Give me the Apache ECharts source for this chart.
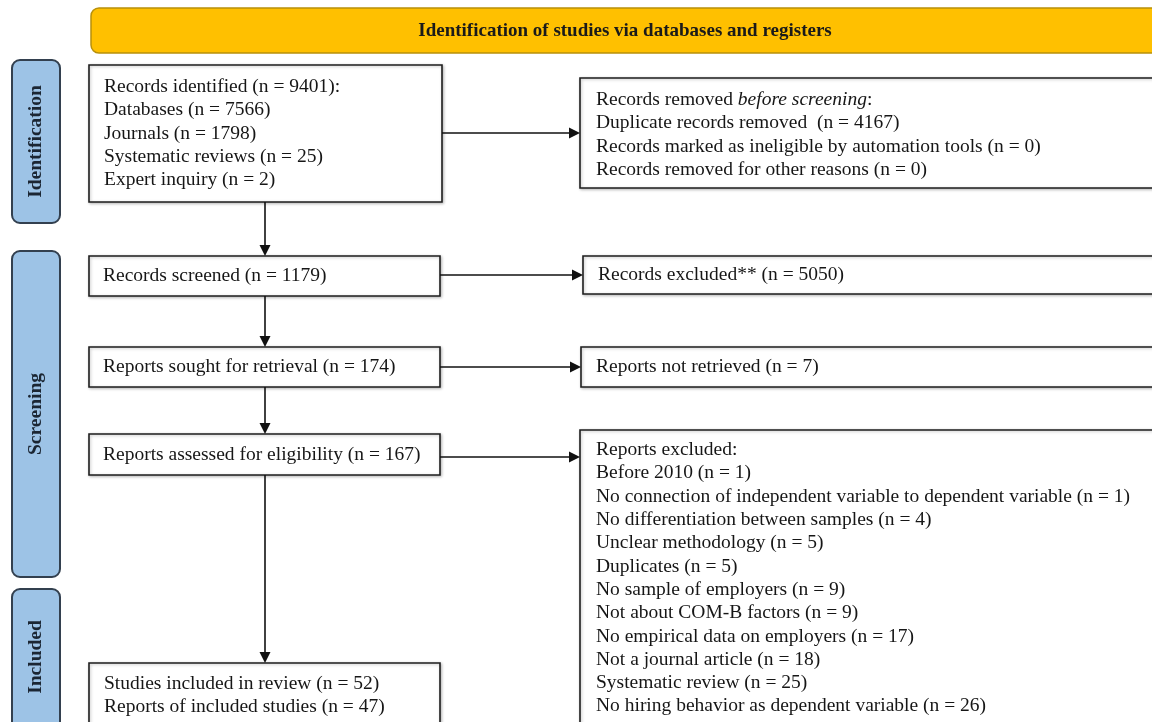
<!DOCTYPE html>
<html><head><meta charset="utf-8">
<script src="https://cdn.jsdelivr.net/npm/echarts@6/dist/echarts.min.js"></script>
<style>html,body{margin:0;padding:0;background:#fff}#c{width:1152px;height:722px}</style>
</head><body><div id="c"></div>
<script>
// ---------- data ----------
const headerTitle = 'Identification of studies via databases and registers';
const stageNames = ['Identification', 'Screening', 'Included'];
const identifiedTotal = 9401;
const sourceNames = ['Databases', 'Journals', 'Systematic reviews', 'Expert inquiry'];
const sourceCounts = [7566, 1798, 25, 2];
const removedNames = ['Duplicate records removed ', 'Records marked as ineligible by automation tools', 'Records removed for other reasons'];
const removedCounts = [4167, 0, 0];
const flowNames = ['Records screened', 'Reports sought for retrieval', 'Reports assessed for eligibility'];
const flowCounts = [1179, 174, 167];
const dropNames = ['Records excluded**', 'Reports not retrieved'];
const dropCounts = [5050, 7];
const reasonNames = ['Before 2010', 'No connection of independent variable to dependent variable', 'No differentiation between samples', 'Unclear methodology', 'Duplicates', 'No sample of employers', 'Not about COM-B factors', 'No empirical data on employers', 'Not a journal article', 'Systematic review', 'No hiring behavior as dependent variable'];
const reasonCounts = [1, 1, 4, 5, 5, 9, 9, 17, 18, 25, 26];
const includedNames = ['Studies included in review', 'Reports of included studies'];
const includedCounts = [52, 47];

// ---------- layout (diagram coordinate space) ----------
const L = {
  header: [91, 8, 1165, 53],
  stages: [[12, 60, 60, 223], [12, 251, 60, 577], [12, 589, 60, 745]],
  ident: [89, 65, 442, 202],
  flow: [[89, 256, 440, 296], [89, 347, 440, 387], [89, 434, 440, 475]],
  included: [89, 663, 440, 745],
  removed: [580, 78, 1165, 188],
  drops: [[583, 256, 1165, 294], [581, 347, 1165, 387]],
  reasons: [580, 430, 1165, 745],
  arrows: [
    [265, 202, 265, 256], [265, 296, 265, 347], [265, 387, 265, 434], [265, 475, 265, 663],
    [442, 133, 580, 133], [440, 275, 583, 275], [440, 367, 581, 367], [440, 457, 580, 457]
  ]
};

const fmt = (n, c) => `${n} (n = ${c})`;
const boxes = [];
boxes.push({ rect: L.header, kind: 'header', text: headerTitle });
stageNames.forEach((s, i) => boxes.push({ rect: L.stages[i], kind: 'stage', text: s }));
boxes.push({ rect: L.ident, kind: 'box', pad: 15, first: 22,
  lines: [`Records identified (n = ${identifiedTotal}):`].concat(sourceNames.map((n, i) => fmt(n, sourceCounts[i]))) });
boxes.push({ rect: L.removed, kind: 'box', pad: 16, first: 22,
  lines: ['{n|Records removed }{i|before screening}{n|:}'].concat(removedNames.map((n, i) => fmt(n, removedCounts[i]))) });
flowNames.forEach((n, i) => boxes.push({ rect: L.flow[i], kind: 'box', pad: 14, lines: [fmt(n, flowCounts[i])] }));
dropNames.forEach((n, i) => boxes.push({ rect: L.drops[i], kind: 'box', pad: 15, lines: [fmt(n, dropCounts[i])] }));
boxes.push({ rect: L.reasons, kind: 'box', pad: 16, first: 20,
  lines: ['Reports excluded:'].concat(reasonNames.map((n, i) => fmt(n, reasonCounts[i]))) });
boxes.push({ rect: L.included, kind: 'box', pad: 15, first: 21,
  lines: includedNames.map((n, i) => fmt(n, includedCounts[i])) });

const FONT = '"Liberation Serif", "Times New Roman", serif';
const FS = 19.5, LH = 23.3;
const TXT = '#161616';

function renderBox(params, api) {
  const b = boxes[params.dataIndex];
  const p0 = api.coord([api.value(0), api.value(1)]);
  const p1 = api.coord([api.value(2), api.value(3)]);
  const x = p0[0], y = p0[1], w = p1[0] - p0[0], h = p1[1] - p0[1];
  const children = [];
  if (b.kind === 'header') {
    children.push({ type: 'rect', shape: { x, y, width: w, height: h, r: 8 },
      style: { fill: '#FFC000', stroke: '#B8900A', lineWidth: 1.5 } });
    children.push({ type: 'text', x: 625, y: y + h / 2 + 1,
      style: { text: b.text, fontFamily: FONT, fontSize: 19, fontWeight: 'bold', fill: '#1a1a1a', align: 'center', verticalAlign: 'middle' } });
  } else if (b.kind === 'stage') {
    children.push({ type: 'rect', shape: { x, y, width: w, height: h, r: 8 },
      style: { fill: '#9DC3E6', stroke: '#33404F', lineWidth: 2 } });
    const cy = b.text === 'Included' ? y + 68 : y + h / 2;
    children.push({ type: 'text', x: x + w / 2, y: cy, rotation: Math.PI / 2,
      style: { text: b.text, fontFamily: FONT, fontSize: 19.5, fontWeight: 'bold', fill: '#1B2633', align: 'center', verticalAlign: 'middle' } });
  } else {
    children.push({ type: 'rect', shape: { x, y, width: w, height: h },
      style: { fill: '#fff', stroke: '#1e1e1e', lineWidth: 1.6, shadowBlur: 3, shadowColor: 'rgba(0,0,0,0.25)', shadowOffsetX: 1, shadowOffsetY: 1 } });
    const n = b.lines.length;
    const top = b.first != null ? y + b.first - LH / 2 : y + h / 2 - (n * LH) / 2;
    children.push({ type: 'text', x: x + b.pad, y: top,
      style: { text: b.lines.join('\n'), fontFamily: FONT, fontSize: FS, lineHeight: LH, fill: TXT, align: 'left', verticalAlign: 'top',
        rich: {
          n: { fontFamily: FONT, fontSize: FS, lineHeight: LH, fill: TXT },
          i: { fontFamily: FONT, fontSize: FS, lineHeight: LH, fill: TXT, fontStyle: 'italic' }
        } } });
  }
  return { type: 'group', children };
}

function renderArrow(params, api) {
  const a = api.coord([api.value(0), api.value(1)]);
  const b = api.coord([api.value(2), api.value(3)]);
  const dx = b[0] - a[0], dy = b[1] - a[1];
  const len = Math.sqrt(dx * dx + dy * dy);
  const ux = dx / len, uy = dy / len;
  const hl = 11, hw = 5.5;
  const bx = b[0] - ux * hl, by = b[1] - uy * hl;
  return { type: 'group', children: [
    { type: 'line', shape: { x1: a[0], y1: a[1], x2: bx, y2: by }, style: { stroke: '#111', lineWidth: 1.6 } },
    { type: 'polygon', shape: { points: [[b[0], b[1]], [bx - uy * hw, by + ux * hw], [bx + uy * hw, by - ux * hw]] }, style: { fill: '#111' } }
  ] };
}

const chart = echarts.init(document.getElementById('c'), null, { renderer: 'canvas' });
chart.setOption({
  backgroundColor: '#fff',
  animation: false,
  grid: { left: 0, right: 0, top: 0, bottom: 0 },
  xAxis: { type: 'value', min: 0, max: 1152, show: false },
  yAxis: { type: 'value', min: 0, max: 722, inverse: true, show: false },
  series: [
    { type: 'custom', name: 'boxes', renderItem: renderBox, clip: false,
      encode: { x: [0, 2], y: [1, 3] },
      data: boxes.map(b => b.rect) },
    { type: 'custom', name: 'arrows', renderItem: renderArrow, clip: false,
      encode: { x: [0, 2], y: [1, 3] },
      data: L.arrows }
  ]
});
</script></body></html>
